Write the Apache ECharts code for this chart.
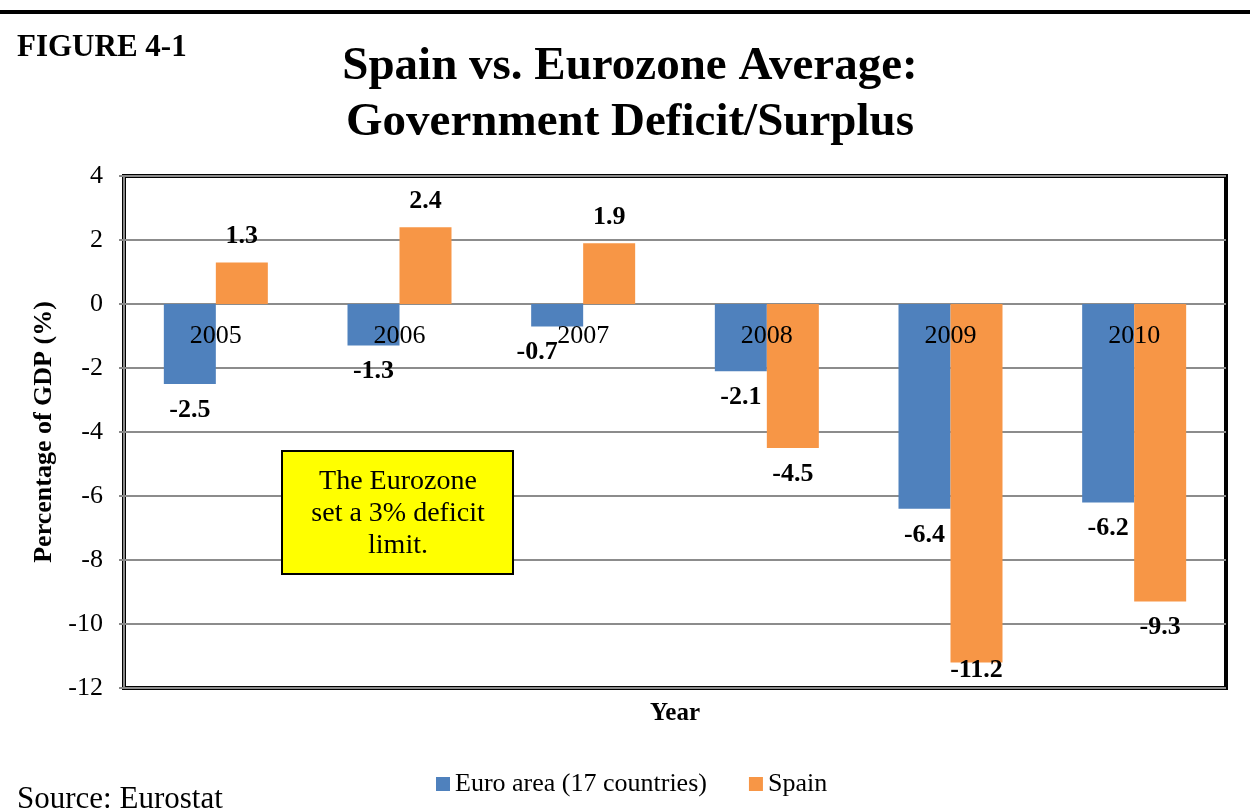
<!DOCTYPE html>
<html>
<head>
<meta charset="utf-8">
<script src="https://cdn.jsdelivr.net/npm/echarts@6/dist/echarts.min.js"></script>
<style>
  html, body { margin: 0; padding: 0; background: #fff; }
  #chart { width: 1250px; height: 811px; }
</style>
</head>
<body>
<div id="chart"></div>
<script>
// Government deficit/surplus as % of GDP
const years = ['2005', '2006', '2007', '2008', '2009', '2010'];
const euroArea = [-2.5, -1.3, -0.7, -2.1, -6.4, -6.2];
const spain = [1.3, 2.4, 1.9, -4.5, -11.2, -9.3];
const yTicks = { min: -12, max: 4, interval: 2 };

const SERIF = '"Liberation Serif", "Times New Roman", serif';
const BLUE = '#4F81BD';
const ORANGE = '#F79646';

// Value labels sit outside the bar end; a couple are nudged to stay readable
const labelNudge = {
  euro: { 2: [-20, 0] },
  spain: { 4: [0, -18] }
};

function buildData(values, nudges) {
  return values.map((v, i) => ({
    value: v,
    label: {
      position: v >= 0 ? 'top' : 'bottom',
      offset: nudges[i] || [0, 0]
    }
  }));
}

// Year labels hang just under the zero line, one per category
const yearMarkers = years.map((y, i) => [i, 0]);

const chart = echarts.init(document.getElementById('chart'));

const labelStyle = {
  show: true,
  distance: 13,
  fontFamily: SERIF,
  fontSize: 26,
  fontWeight: 'bold',
  color: '#000',
  formatter: p => p.value.toFixed(1)
};

chart.setOption({
  animation: false,
  textStyle: { fontFamily: SERIF },
  title: [
    {
      text: 'Spain vs. Eurozone Average:\nGovernment Deficit/Surplus',
      left: 625,
      top: 34,
      textAlign: 'center',
      textStyle: { fontFamily: SERIF, fontSize: 47, fontWeight: 'bold', color: '#000', lineHeight: 56 }
    },
    {
      text: 'FIGURE 4-1',
      left: 17,
      top: 32,
      padding: 0,
      textStyle: { fontFamily: SERIF, fontSize: 31, fontWeight: 'bold', color: '#000' }
    },
    {
      text: 'Source: Eurostat',
      left: 17,
      top: 784,
      padding: 0,
      textStyle: { fontFamily: SERIF, fontSize: 31, fontWeight: 'normal', color: '#000' }
    }
  ],
  legend: {
    left: 431,
    top: 766,
    itemWidth: 14,
    itemHeight: 14,
    itemGap: 42,
    icon: 'rect',
    textStyle: { fontFamily: SERIF, fontSize: 26, color: '#000' },
    data: ['Euro area (17 countries)', 'Spain']
  },
  grid: {
    left: 124,
    right: 24,
    top: 176,
    bottom: 123,
    containLabel: false,
    outerBoundsMode: 'none',
    show: true,
    borderColor: '#000',
    borderWidth: 4,
    backgroundColor: 'transparent'
  },
  xAxis: {
    type: 'category',
    data: years,
    name: 'Year',
    nameLocation: 'middle',
    nameGap: 13,
    nameTextStyle: { fontFamily: SERIF, fontSize: 25, fontWeight: 'bold', color: '#000' },
    axisLine: { show: false },
    axisTick: { show: false },
    axisLabel: { show: false }
  },
  yAxis: {
    type: 'value',
    min: yTicks.min,
    max: yTicks.max,
    interval: yTicks.interval,
    name: 'Percentage of GDP (%)',
    nameLocation: 'middle',
    nameGap: 67,
    nameRotate: 90,
    nameTextStyle: { fontFamily: SERIF, fontSize: 26, fontWeight: 'bold', color: '#000' },
    axisLine: { show: true, lineStyle: { color: '#888', width: 2 } },
    axisTick: { show: true, length: 5, lineStyle: { color: '#888', width: 2 } },
    axisLabel: { fontFamily: SERIF, fontSize: 26, color: '#000', margin: 21 },
    splitLine: { show: true, lineStyle: { color: '#8c8c8c', width: 2 } }
  },
  series: [
    {
      name: 'Euro area (17 countries)',
      type: 'bar',
      data: buildData(euroArea, labelNudge.euro),
      itemStyle: { color: BLUE },
      barWidth: 52,
      barGap: '0%',
      label: labelStyle
    },
    {
      name: 'Spain',
      type: 'bar',
      data: buildData(spain, labelNudge.spain),
      itemStyle: { color: ORANGE },
      barWidth: 52,
      barGap: '0%',
      label: labelStyle
    },
    {
      name: 'yearLabels',
      type: 'scatter',
      data: yearMarkers,
      symbolSize: 0,
      silent: true,
      z: 5,
      itemStyle: { opacity: 1 },
      label: {
        show: true,
        position: 'bottom',
        distance: 19,
        opacity: 1,
        fontFamily: SERIF,
        fontSize: 26,
        color: '#000',
        formatter: p => years[p.dataIndex]
      }
    }
  ],
  graphic: [
    {
      type: 'rect',
      x: 282,
      y: 451,
      shape: { x: 0, y: 0, width: 231, height: 123 },
      style: { fill: '#FFFF00', stroke: '#000', lineWidth: 2 },
      z: 10
    },
    {
      type: 'text',
      x: 398,
      y: 466,
      style: {
        text: 'The Eurozone\nset a 3% deficit\nlimit.',
        align: 'center',
        verticalAlign: 'top',
        font: '28px "Liberation Serif", serif',
        lineHeight: 32,
        fill: '#000'
      },
      z: 11
    },
    {
      type: 'rect',
      x: 0,
      y: 10,
      shape: { x: 0, y: 0, width: 1250, height: 4 },
      style: { fill: '#000' }
    }
  ]
});
</script>
</body>
</html>
